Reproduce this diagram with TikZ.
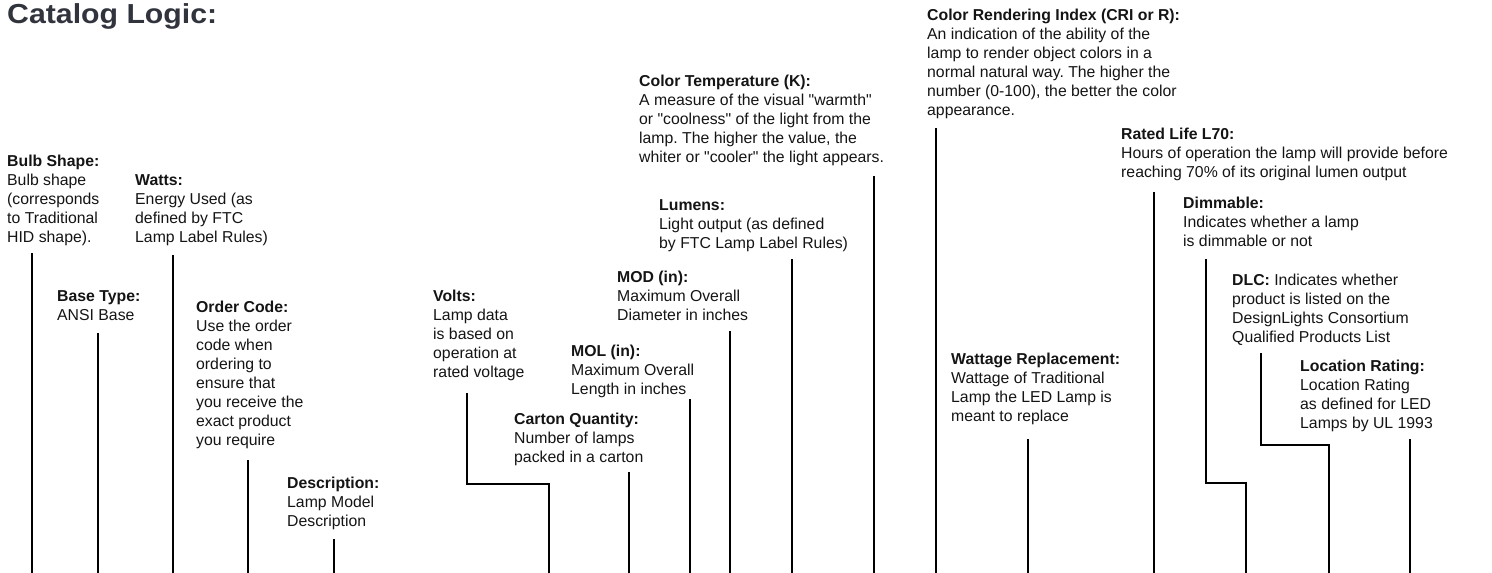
\documentclass[tikz,border=0pt]{standalone}
\usepackage{fontspec}
\setmainfont{Liberation Sans}
\newfontfamily\bodyfont{Liberation Sans}
\newfontfamily\titlefont[FakeStretch=1.1]{Liberation Sans}
\definecolor{titlecol}{HTML}{31343D}
\definecolor{ink}{HTML}{141414}
\newcommand{\blk}[1]{\begin{tabular}[t]{@{}l@{}}#1\end{tabular}}
\frenchspacing
\begin{document}
\begin{tikzpicture}[x=1pt,y=-1pt,
  lbl/.style={anchor=base west, inner sep=0pt, font=\bodyfont\fontsize{15.8}{19}\selectfont, text=ink},
  conn/.style={line width=2.3pt, draw=black, line join=miter}]
\useasboundingbox (0,0) rectangle (1492,573);

% title
\node[anchor=base west, inner sep=0pt, text=titlecol,
      font=\titlefont\fontsize{27.5}{30}\bfseries\selectfont] (title) at (7,23) {Catalog Logic:};

% labels
\node[lbl] (bulb) at (7,166) {\blk{\textbf{Bulb Shape:}\\Bulb shape\\(corresponds\\to Traditional\\HID shape).}};
\node[lbl] (watts) at (135,185) {\blk{\textbf{Watts:}\\Energy Used (as\\defined by FTC\\Lamp Label Rules)}};
\node[lbl] (base) at (57,301) {\blk{\textbf{Base Type:}\\ANSI Base}};
\node[lbl] (order) at (196,312) {\blk{\textbf{Order Code:}\\Use the order\\code when\\ordering to\\ensure that\\you receive the\\exact product\\you require}};
\node[lbl] (desc) at (287,488) {\blk{\textbf{Description:}\\Lamp Model\\Description}};
\node[lbl] (volts) at (433,301) {\blk{\textbf{Volts:}\\Lamp data\\is based on\\operation at\\rated voltage}};
\node[lbl] (carton) at (514,424) {\blk{\textbf{Carton Quantity:}\\Number of lamps\\packed in a carton}};
\node[lbl] (mol) at (571,356) {\blk{\textbf{MOL (in):}\\Maximum Overall\\Length in inches}};
\node[lbl] (mod) at (617,282) {\blk{\textbf{MOD (in):}\\Maximum Overall\\Diameter in inches}};
\node[lbl] (lumens) at (659,210) {\blk{\textbf{Lumens:}\\Light output (as defined\\by FTC Lamp Label Rules)}};
\node[lbl] (ctemp) at (639,86) {\blk{\textbf{Color Temperature (K):}\\A measure of the visual "warmth"\\or "coolness" of the light from the\\lamp. The higher the value, the\\whiter or "cooler" the light appears.}};
\node[lbl] (cri) at (927,20) {\blk{\textbf{Color Rendering Index (CRI or R):}\\An indication of the ability of the\\lamp to render object colors in a\\normal natural way. The higher the\\number (0-100), the better the color\\appearance.}};
\node[lbl] (watrep) at (951,364) {\blk{\textbf{Wattage Replacement:}\\Wattage of Traditional\\Lamp the LED Lamp is\\meant to replace}};
\node[lbl] (life) at (1121,139) {\blk{\textbf{Rated Life L70:}\\Hours of operation the lamp will provide before\\reaching 70\% of its original lumen output}};
\node[lbl] (dim) at (1183,208) {\blk{\textbf{Dimmable:}\\Indicates whether a lamp\\is dimmable or not}};
\node[lbl] (dlc) at (1232,285) {\blk{\textbf{DLC:} Indicates whether\\product is listed on the\\DesignLights Consortium\\Qualified Products List}};
\node[lbl] (loc) at (1300,371) {\blk{\textbf{Location Rating:}\\Location Rating\\as defined for LED\\Lamps by UL 1993}};

% connector end points
\coordinate (bulbT) at (32,253);   \coordinate (bulbB) at (32,573);
\coordinate (baseT) at (98,333);   \coordinate (baseB) at (98,573);
\coordinate (wattsT) at (173,255); \coordinate (wattsB) at (173,573);
\coordinate (orderT) at (248,460); \coordinate (orderB) at (248,573);
\coordinate (descT) at (334,539);  \coordinate (descB) at (334,573);
\coordinate (voltsT) at (467,393); \coordinate (voltsK) at (467,484); \coordinate (voltsB) at (549,573);
\coordinate (cartonT) at (629,472); \coordinate (cartonB) at (629,573);
\coordinate (molT) at (690,399);   \coordinate (molB) at (690,573);
\coordinate (modT) at (730,331);   \coordinate (modB) at (730,573);
\coordinate (lumT) at (792,259);   \coordinate (lumB) at (792,573);
\coordinate (ctT) at (874,176);    \coordinate (ctB) at (874,573);
\coordinate (criT) at (936,128);   \coordinate (criB) at (936,573);
\coordinate (wrT) at (1028,439);   \coordinate (wrB) at (1028,573);
\coordinate (lifeT) at (1154,192); \coordinate (lifeB) at (1154,573);
\coordinate (dimT) at (1206,259);  \coordinate (dimK) at (1206,483); \coordinate (dimB) at (1246,573);
\coordinate (dlcT) at (1261,353);  \coordinate (dlcK) at (1261,445); \coordinate (dlcB) at (1329,573);
\coordinate (locT) at (1410,439);  \coordinate (locB) at (1410,573);

% connectors
\draw[conn] (bulbT) -- (bulbB);
\draw[conn] (baseT) -- (baseB);
\draw[conn] (wattsT) -- (wattsB);
\draw[conn] (orderT) -- (orderB);
\draw[conn] (descT) -- (descB);
\draw[conn] (voltsT) -- (voltsK) -| (voltsB);
\draw[conn] (cartonT) -- (cartonB);
\draw[conn] (molT) -- (molB);
\draw[conn] (modT) -- (modB);
\draw[conn] (lumT) -- (lumB);
\draw[conn] (ctT) -- (ctB);
\draw[conn] (criT) -- (criB);
\draw[conn] (wrT) -- (wrB);
\draw[conn] (lifeT) -- (lifeB);
\draw[conn] (dimT) -- (dimK) -| (dimB);
\draw[conn] (dlcT) -- (dlcK) -| (dlcB);
\draw[conn] (locT) -- (locB);
\end{tikzpicture}
\end{document}
